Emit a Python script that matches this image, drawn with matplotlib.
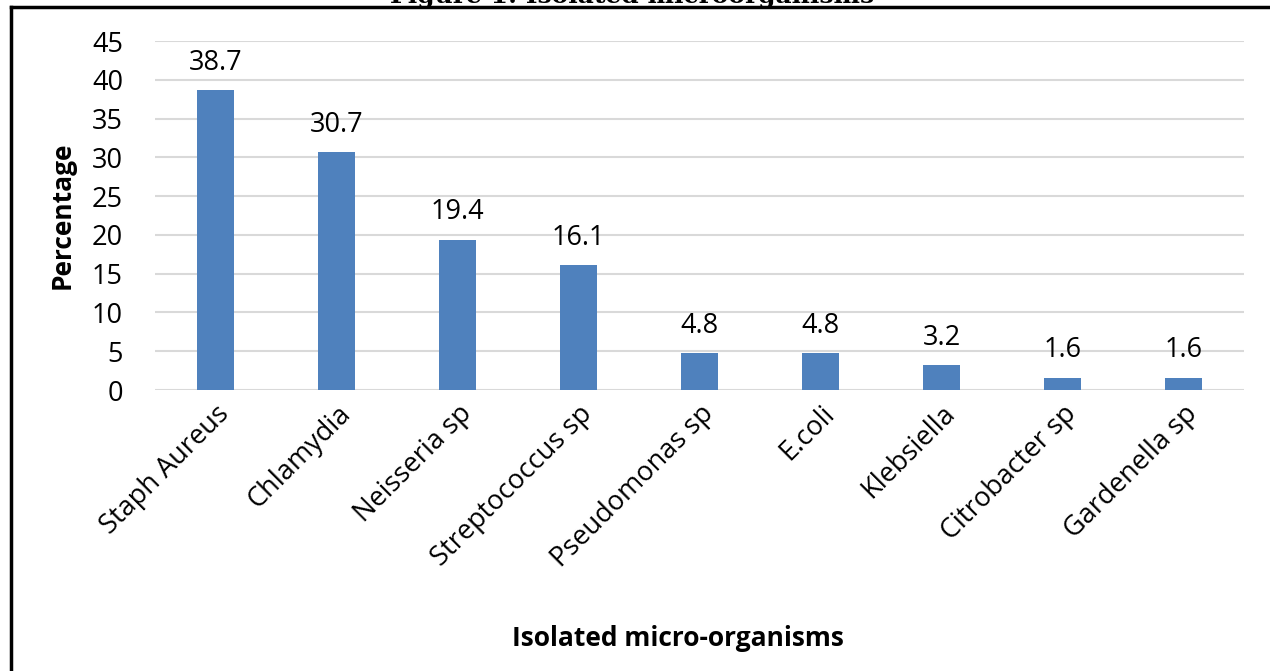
import matplotlib.pyplot as plt
from matplotlib.lines import Line2D

organisms = ['Staph Aureus', 'Chlamydia', 'Neisseria sp', 'Streptococcus sp',
             'Pseudomonas sp', 'E.coli', 'Klebsiella', 'Citrobacter sp', 'Gardenella sp']
percentage = [38.7, 30.7, 19.4, 16.1, 4.8, 4.8, 3.2, 1.6, 1.6]
yticks = [0, 5, 10, 15, 20, 25, 30, 35, 40, 45]

plt.rcParams['font.family'] = ['Open Sans', 'DejaVu Sans']

fig = plt.figure(figsize=(12.7, 6.71), dpi=100)
ax = fig.add_axes([155/1270, 1 - 390/671, 1089/1270, 349/671])

x = list(range(len(organisms)))
ax.bar(x, percentage, width=0.31, color='#4f81bd', zorder=3)
for xi, v in zip(x, percentage):
    ax.annotate(f'{v}', (xi, v), xytext=(0, 14.5), textcoords='offset points',
                ha='center', va='baseline', fontsize=19.5)

ax.set_xlim(-0.5, len(organisms) - 0.5)
ax.set_ylim(0, 45)
ax.set_yticks(yticks)
ax.set_xticks(x)
ax.set_xticklabels(organisms, rotation=45, ha='right', rotation_mode='anchor', fontsize=19.5)
ax.tick_params(axis='y', labelsize=19.5, length=0, pad=23)
ax.tick_params(axis='x', length=0, pad=7)
ax.grid(axis='y', color='#d9d9d9', linewidth=1.5, zorder=0)
for s in ax.spines.values():
    s.set_visible(False)

fig.text(62/1270, 1 - 215/671, 'Percentage', rotation=90, ha='center', va='center',
         fontsize=19, fontweight='bold')
fig.text(678/1270, 1 - 638/671, 'Isolated micro-organisms', ha='center', va='center',
         fontsize=19, fontweight='bold')

# clipped caption and frame at the top
fig.text(632/1270, 1 - 3/671, 'Figure 1: Isolated microorganisms', ha='center', va='baseline',
         fontsize=18, fontweight='bold', family='DejaVu Serif')
fig.add_artist(Line2D([11/1270, 1], [1 - 7/671, 1 - 7/671], color='black', lw=2.5,
                      transform=fig.transFigure))
fig.add_artist(Line2D([11/1270, 11/1270], [0, 1 - 7/671], color='black', lw=2.5,
                      transform=fig.transFigure))

fig.savefig('out.png', dpi=100)
